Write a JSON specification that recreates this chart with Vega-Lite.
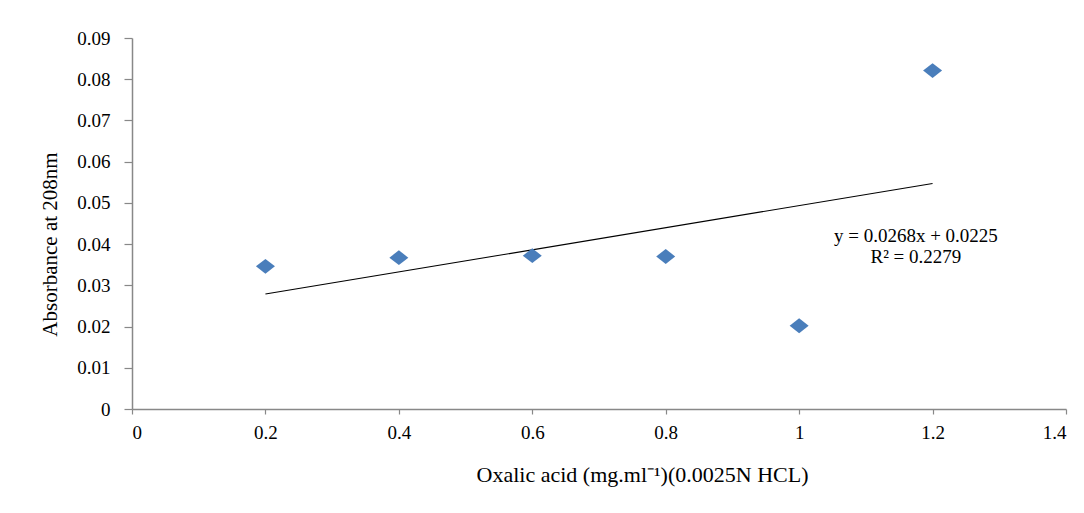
{
  "$schema": "https://vega.github.io/schema/vega-lite/v6.json",
  "autosize": {"type": "none"},
  "padding": {"left": 132, "top": 38, "right": 18, "bottom": 104},
  "width": 934,
  "height": 371,
  "background": "white",
  "config": {
    "view": {"stroke": null},
    "font": "Liberation Serif",
    "axis": {
      "grid": false,
      "domainColor": "#888888",
      "domainWidth": 1.5,
      "tickColor": "#888888",
      "tickWidth": 1.2,
      "labelFont": "Liberation Serif",
      "labelFontSize": 19,
      "labelColor": "#000000",
      "titleFont": "Liberation Serif",
      "titleFontWeight": "normal",
      "titleColor": "#000000"
    }
  },
  "datasets": {
    "pts": [
      {"x": 0.2, "y": 0.0346},
      {"x": 0.4, "y": 0.0367},
      {"x": 0.6, "y": 0.0372},
      {"x": 0.8, "y": 0.0370},
      {"x": 1.0, "y": 0.0202},
      {"x": 1.2, "y": 0.0821}
    ],
    "ann": [
      {"x": 1.175, "y": 0.0419, "t": "y = 0.0268x + 0.0225"},
      {"x": 1.175, "y": 0.0369, "t": "R² = 0.2279"}
    ]
  },
  "layer": [
    {
      "data": {"name": "pts"},
      "transform": [{"regression": "y", "on": "x", "method": "linear", "extent": [0.2, 1.2]}],
      "mark": {"type": "line", "color": "#000000", "strokeWidth": 1.1},
      "encoding": {
        "x": {
          "field": "x", "type": "quantitative",
          "scale": {"domain": [0, 1.4], "nice": false, "zero": false},
          "axis": {
            "values": [0, 0.2, 0.4, 0.6, 0.8, 1, 1.2, 1.4],
            "labelExpr": "format(datum.value, '~g')",
            "tickSize": 5,
            "labelPadding": 9,
            "title": "Oxalic acid (mg.ml⁻¹)(0.0025N HCL)",
            "titleFontSize": 22,
            "titleX": 510,
            "titleY": 65,
            "titleBaseline": "middle"
          }
        },
        "y": {
          "field": "y", "type": "quantitative",
          "scale": {"domain": [0, 0.09], "nice": false, "zero": true},
          "axis": {
            "values": [0, 0.01, 0.02, 0.03, 0.04, 0.05, 0.06, 0.07, 0.08, 0.09],
            "labelExpr": "datum.value == 0 ? '0' : format(datum.value, '.2f')",
            "tickSize": 8,
            "labelPadding": 14,
            "title": "Absorbance at 208nm",
            "titleFontSize": 21,
            "titleX": -82,
            "titleY": 206,
            "titleBaseline": "middle"
          }
        }
      }
    },
    {
      "data": {"name": "pts"},
      "mark": {
        "type": "point",
        "shape": "M-1,0L0,-0.78L1,0L0,0.78Z",
        "filled": true,
        "color": "#4a7ebb",
        "opacity": 1,
        "size": 361
      },
      "encoding": {
        "x": {"field": "x", "type": "quantitative"},
        "y": {"field": "y", "type": "quantitative"}
      }
    },
    {
      "data": {"name": "ann"},
      "mark": {"type": "text", "fontSize": 19, "color": "#000000", "align": "center", "baseline": "middle", "font": "Liberation Serif"},
      "encoding": {
        "x": {"field": "x", "type": "quantitative"},
        "y": {"field": "y", "type": "quantitative"},
        "text": {"field": "t"}
      }
    }
  ]
}
